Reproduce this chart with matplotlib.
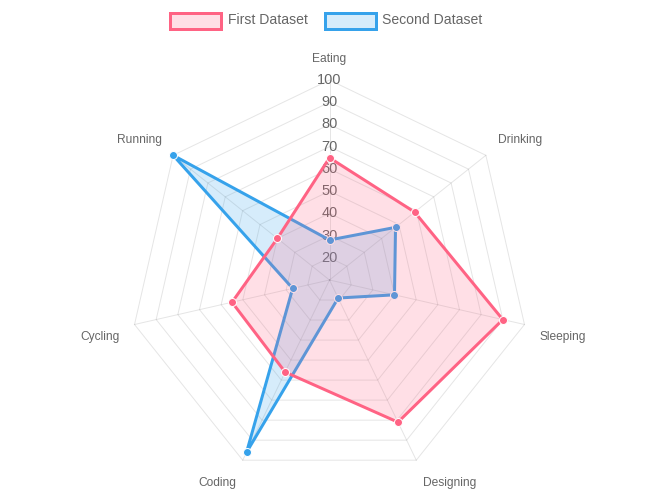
import numpy as np
import matplotlib.pyplot as plt
from matplotlib.patches import Polygon, Rectangle

plt.rcParams["font.family"] = ["Liberation Sans", "DejaVu Sans"]

# chart data
labels = ["Eating", "Drinking", "Sleeping", "Designing", "Coding", "Cycling", "Running"]
first_dataset = [65, 59, 90, 81, 56, 55, 40]
second_dataset = [28, 48, 40, 19, 96, 27, 100]
tick_values = [20, 30, 40, 50, 60, 70, 80, 90, 100]
scale_min, scale_max = 10, 100

W, H = 659, 500
cx, cy, R = 329.5, 280, 200
PX = 0.72  # points per pixel at dpi 100

red = (255 / 255, 99 / 255, 132 / 255)
blue = (54 / 255, 162 / 255, 235 / 255)
text_col = "#666666"
grid_col = (0, 0, 0, 0.1)

fig = plt.figure(figsize=(W / 100, H / 100), dpi=100)
ax = fig.add_axes([0, 0, 1, 1])
ax.set_xlim(0, W)
ax.set_ylim(H, 0)
ax.axis("off")

n = len(labels)
ang_deg = np.arange(n) * 360 / n
ang = np.deg2rad(-90 + ang_deg)


def radius(v):
    return (np.asarray(v, float) - scale_min) / (scale_max - scale_min) * R


def to_xy(vals):
    r = radius(vals)
    return cx + r * np.cos(ang), cy + r * np.sin(ang)


# grid polygons and angle lines
for v in tick_values:
    x, y = to_xy([v] * n)
    ax.add_patch(Polygon(np.column_stack([x, y]), closed=True, fill=False,
                         edgecolor=grid_col, linewidth=1 * PX, zorder=1))
for a in ang:
    ax.plot([cx, cx + R * np.cos(a)], [cy, cy + R * np.sin(a)],
            color=grid_col, linewidth=1 * PX, zorder=1)

# tick labels (drawn under the datasets)
for v in tick_values:
    ax.text(cx, cy - radius(v), str(v), ha="center", va="center",
            fontsize=14.5 * PX, color=text_col, zorder=2)

# point labels
for i, lab in enumerate(labels):
    a = ang_deg[i]
    r = R + 15
    x = cx + r * np.cos(ang[i])
    y = cy + r * np.sin(ang[i])
    if a == 0 or a == 180:
        ha = "center"
    elif a < 180:
        ha = "left"
    else:
        ha = "right"
    if a == 90 or a == 270:
        va = "center"
    elif a < 90 or a > 270:
        va = "bottom"
    else:
        va = "top"
        y += 3
    ax.text(x, y, lab, ha=ha, va=va, fontsize=12 * PX, color=text_col, zorder=2)

# datasets: second drawn first so the first sits on top
for vals, col, z in [(second_dataset, blue, 3), (first_dataset, red, 6)]:
    x, y = to_xy(vals)
    pts = np.column_stack([x, y])
    ax.add_patch(Polygon(pts, closed=True, facecolor=(*col, 0.2),
                         edgecolor="none", zorder=z))
    ax.add_patch(Polygon(pts, closed=True, fill=False, edgecolor=col,
                         linewidth=3 * PX, joinstyle="miter", zorder=z + 1))
    ax.plot(x, y, "o", markersize=8 * PX, markerfacecolor=col,
            markeredgecolor="white", markeredgewidth=1 * PX, linestyle="none",
            zorder=z + 2)

# legend
legend_items = [("First Dataset", red, 169.5), ("Second Dataset", blue, 324.5)]
for name, col, lx in legend_items:
    ax.add_patch(Rectangle((lx, 12.5), 51, 16, facecolor=(*col, 0.2),
                           edgecolor=col, linewidth=3 * PX, zorder=5))
    ax.text(lx + 58, 19.5, name, ha="left", va="center",
            fontsize=14 * PX, color=text_col)

fig.savefig("out.png", dpi=100)
